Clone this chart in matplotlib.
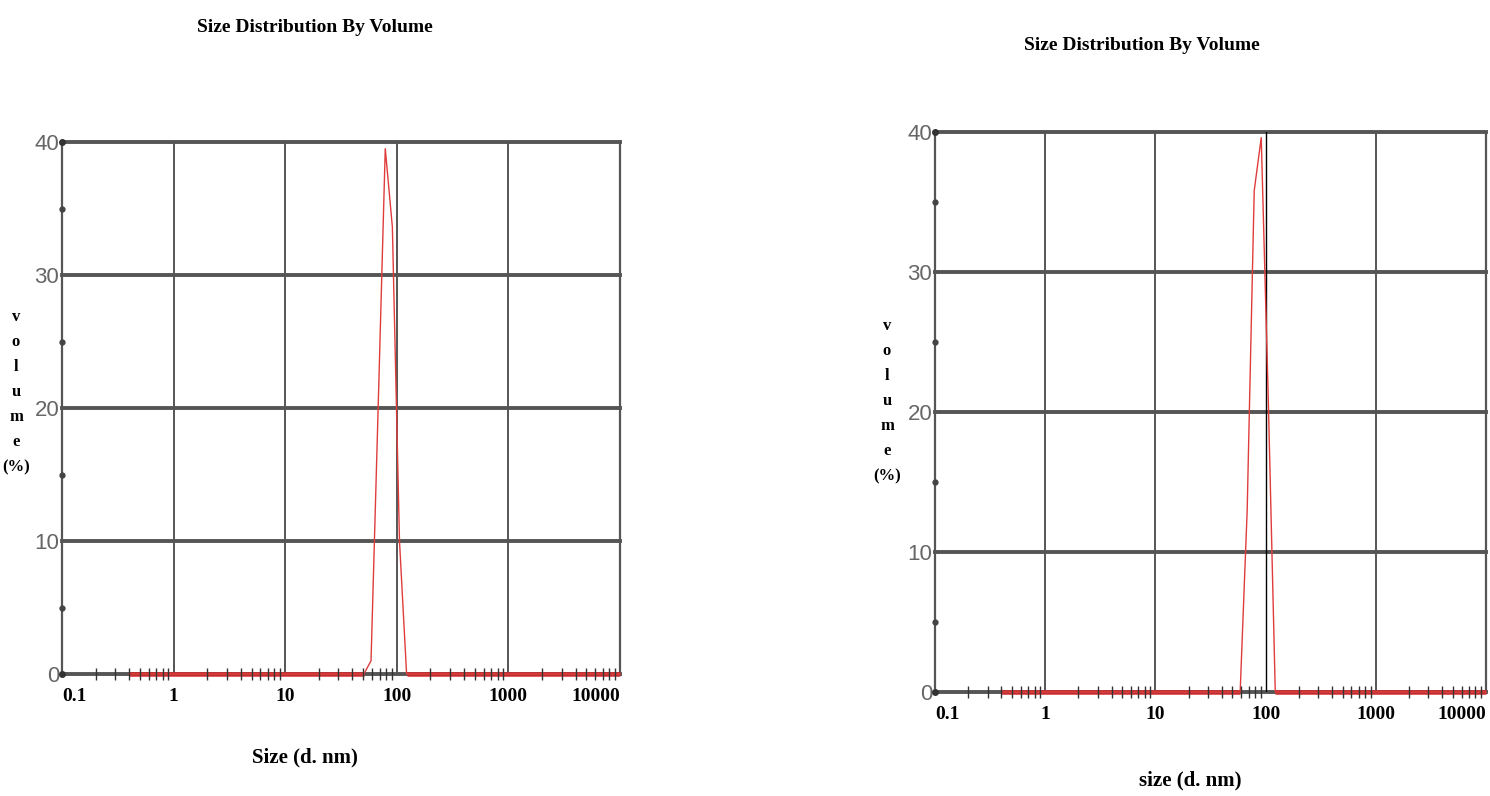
import numpy as np
import matplotlib
matplotlib.use('Agg')
import matplotlib.pyplot as plt
from matplotlib.ticker import FixedLocator, NullFormatter

# size bins (d. nm) and volume (%)
size_a = [0.4, 50.75, 58.77, 68.06, 78.82, 91.28, 105.7, 122.4, 10000]
vol_a = [0, 0, 1.0, 20.0, 39.5, 33.6, 10.0, 0, 0]

size_b = [0.4, 58.77, 68.06, 78.82, 91.28, 105.7, 122.4, 10000]
vol_b = [0, 0, 13.0, 35.8, 39.6, 21.0, 0, 0]

x_ticks = [0.1, 1, 10, 100, 1000, 10000]
x_tick_labels = ['0.1', '1', '10', '100', '1000', '10000']
y_ticks = [0, 10, 20, 30, 40]
y_minor = [5, 15, 25, 35]

title = 'Size Distribution By Volume'
serif = ['Liberation Serif', 'DejaVu Serif']
narrow = ['Liberation Sans Narrow', 'Liberation Sans', 'DejaVu Sans']

fig = plt.figure(figsize=(14.9, 7.96), dpi=100)


def draw_panel(rect, sizes, vols, xlabel, xlabel_pos, title_pos, ylab_pos, mid_black=False):
    ax = fig.add_axes(rect)
    ax.set_xscale('log')
    ax.set_xlim(0.1, 10000)
    ax.set_ylim(0, 40)

    grid_c = '#555555'
    for y in y_ticks:
        ax.axhline(y, color=grid_c, lw=2.8, zorder=1, clip_on=False)
    for x in x_ticks[1:]:
        if mid_black and x == 100:
            ax.axvline(x, color='black', lw=1.0, zorder=1)
        else:
            ax.axvline(x, color=grid_c, lw=1.4, zorder=1)
    for s in ax.spines.values():
        s.set_visible(False)
    ax.axvline(0.1, color=grid_c, lw=1.6, zorder=1, clip_on=False)
    ax.axvline(10000, color=grid_c, lw=1.6, zorder=1, clip_on=False)

    sizes = np.array(sizes)
    vols = np.array(vols)
    # zero part of the curve sits on the baseline as a thick band
    base = np.where(vols == 0, vols, np.nan)
    ax.plot(sizes, base, color='#d62728', lw=3.5, alpha=0.8, zorder=3,
            solid_capstyle='butt', clip_on=False)
    ax.plot(sizes, vols, color='#e03c3c', lw=1.0, zorder=4, clip_on=False)

    # minor ticks on the x baseline
    minor = [m * 10.0 ** e for e in range(-1, 4) for m in range(2, 10)]
    ax.plot(minor, [0] * len(minor), linestyle='none', marker='|',
            markersize=9, color='#333333', mew=1.0, zorder=5, clip_on=False)
    ax.plot([0.1] * len(y_minor), y_minor, linestyle='none', marker='o',
            markersize=3.5, color='#444444', zorder=5, clip_on=False)
    ax.plot([0.1, 0.1], [0, 40], linestyle='none', marker='o',
            markersize=4, color='#333333', zorder=5, clip_on=False)

    ax.xaxis.set_major_locator(FixedLocator(x_ticks))
    ax.xaxis.set_minor_formatter(NullFormatter())
    ax.set_xticklabels(x_tick_labels)
    ax.tick_params(axis='x', which='both', length=0, pad=10)
    for i, t in enumerate(ax.get_xticklabels()):
        t.set_fontfamily(serif)
        t.set_fontweight('bold')
        t.set_fontsize(14)
        if i == 0:
            t.set_horizontalalignment('left')
        elif i == len(x_ticks) - 1:
            t.set_horizontalalignment('right')

    ax.set_yticks(y_ticks)
    ax.tick_params(axis='y', which='both', length=0, pad=2)
    for t in ax.get_yticklabels():
        t.set_fontfamily(narrow)
        t.set_fontsize(16)
        t.set_color('#666666')

    fig.text(title_pos[0], title_pos[1], title, ha='center', va='center',
             fontfamily=serif, fontweight='bold', fontsize=14)
    fig.text(xlabel_pos[0], xlabel_pos[1], xlabel, ha='center', va='center',
             fontfamily=serif, fontweight='bold', fontsize=15)
    fig.text(ylab_pos[0], ylab_pos[1], 'v\no\nl\nu\nm\ne\n(%)', ha='center',
             va='center', fontfamily=serif, fontweight='bold', fontsize=12,
             linespacing=1.75)
    return ax


W, H = 1490.0, 796.0
draw_panel([62 / W, 1 - 674 / H, 558 / W, 532 / H], size_a, vol_a,
           'Size (d. nm)', (305 / W, 1 - 757 / H), (315 / W, 1 - 27 / H),
           (16 / W, 1 - 392 / H))
draw_panel([935 / W, 1 - 692 / H, 551 / W, 560 / H], size_b, vol_b,
           'size (d. nm)', (1190 / W, 1 - 780 / H), (1142 / W, 1 - 45 / H),
           (887 / W, 1 - 401 / H), mid_black=True)

fig.savefig('out.png', dpi=100)
